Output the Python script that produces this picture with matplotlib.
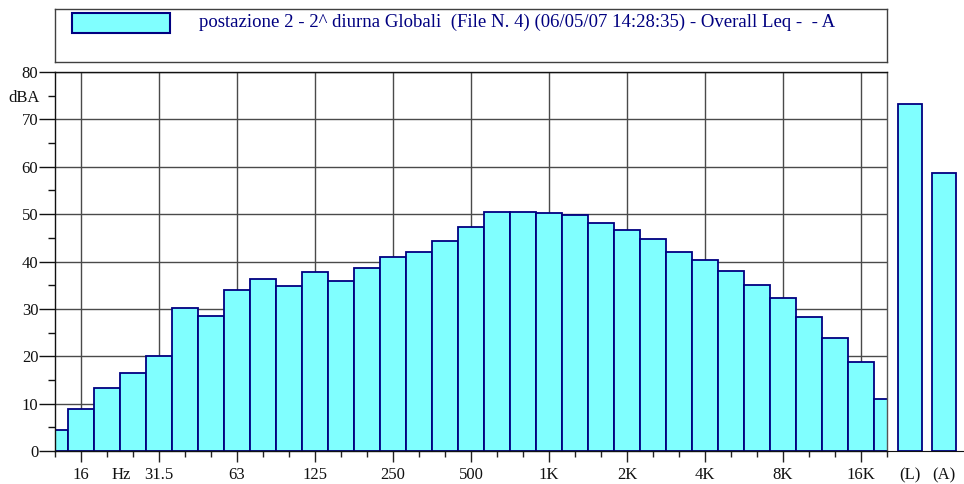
import matplotlib
matplotlib.use('Agg')
import matplotlib.pyplot as plt
from matplotlib.patches import Rectangle
from matplotlib.ticker import FixedLocator, FixedFormatter, NullFormatter

# ---------------- data ----------------
bands = ['12.5', '16', '20', '25', '31.5', '40', '50', '63', '80', '100',
         '125', '160', '200', '250', '315', '400', '500', '630', '800', '1K',
         '1.25K', '1.6K', '2K', '2.5K', '3.15K', '4K', '5K', '6.3K', '8K', '10K',
         '12.5K', '16K', '20K']
levels = [4.4, 8.9, 13.2, 16.5, 20.0, 30.2, 28.4, 34.0, 36.3, 34.9,
          37.8, 35.9, 38.6, 40.9, 42.1, 44.3, 47.3, 50.5, 50.5, 50.2,
          49.8, 48.2, 46.7, 44.7, 42.1, 40.3, 38.0, 35.1, 32.4, 28.3,
          23.9, 18.7, 11.0]
labelled_bands = ['16', '31.5', '63', '125', '250', '500', '1K', '2K', '4K', '8K', '16K']
overall_names = ['(L)', '(A)']
overall_levels = [73.2, 58.6]
y_major = [0, 10, 20, 30, 40, 50, 60, 70, 80]
y_minor = [5, 15, 25, 35, 45, 55, 65, 75]
y_minor_labels = ['', '', '', '', '', '', '', 'dBA']
unit_label = 'Hz'
legend_label = "postazione 2 - 2^ diurna Globali  (File N. 4) (06/05/07 14:28:35) - Overall Leq -  - A"

# ---------------- style ----------------
FILL = '#80FFFF'
EDGE = '#000080'
GRID = '#4a4a4a'
W, H = 964, 484
plt.rcParams['font.family'] = ['Liberation Serif', 'DejaVu Serif']
plt.rcParams['font.size'] = 12

fig = plt.figure(figsize=(W / 100, H / 100), dpi=100)

# ---------------- main spectrum ----------------
ax = fig.add_axes([55 / W, 33 / H, 832 / W, 379 / H])
x = list(range(len(bands)))
ax.bar(x, levels, width=1.0, color=FILL, edgecolor=EDGE, linewidth=1.3, zorder=2)
ax.set_xlim(0, len(bands) - 1)
ax.set_ylim(0, 80)

major_idx = [bands.index(b) for b in labelled_bands]
minor_idx = [i for i in x if i not in major_idx]
ax.xaxis.set_major_locator(FixedLocator(major_idx))
ax.xaxis.set_major_formatter(FixedFormatter(labelled_bands))
ax.xaxis.set_minor_locator(FixedLocator(minor_idx))
ax.xaxis.set_minor_formatter(NullFormatter())
ax.yaxis.set_major_locator(FixedLocator(y_major))
ax.yaxis.set_major_formatter(FixedFormatter([str(v) for v in y_major]))
ax.yaxis.set_minor_locator(FixedLocator(y_minor))
ax.yaxis.set_minor_formatter(FixedFormatter(y_minor_labels))

ax.tick_params(axis='x', which='major', length=8, width=1, pad=3.5, color='#222222', labelcolor='#111111')
ax.tick_params(axis='x', which='minor', length=4.5, width=1, color='#222222')
ax.tick_params(axis='y', which='major', length=11.5, width=1, pad=0.5, color='#111111', labelcolor='#111111')
ax.tick_params(axis='y', which='minor', length=4.8, width=1, pad=6.5, color='#111111', labelcolor='#111111')

ax.grid(which='major', color=GRID, linewidth=1.0, zorder=0)
ax.set_axisbelow(True)
for side in ['left', 'bottom', 'top']:
    ax.spines[side].set_color('#111111')
    ax.spines[side].set_linewidth(1.0)
ax.spines['right'].set_color('#555555')
ax.spines['right'].set_linewidth(1.0)

# "Hz" unit label between 20 and 25 Hz
ax.annotate(unit_label, xy=((bands.index('20') + bands.index('25')) / 2 + 0.05, 0),
            xycoords=('data', 'axes fraction'), xytext=(0, -11.5), textcoords='offset points',
            ha='center', va='top', color='#111111', fontsize=12)

# ---------------- overall levels ----------------
ax2 = fig.add_axes([887 / W, 33 / H, 77 / W, 379 / H])
xo = list(range(len(overall_names)))
ax2.bar(xo, overall_levels, width=0.71, color=FILL, edgecolor=EDGE, linewidth=1.3, zorder=2)
ax2.set_xlim(-0.684, 1.607)
ax2.set_ylim(0, 80)
ax2.set_xticks(xo)
ax2.set_xticklabels(overall_names)
ax2.set_yticks([])
ax2.tick_params(axis='x', length=0, pad=11.5, labelcolor='#111111')
for side in ['left', 'right', 'top']:
    ax2.spines[side].set_visible(False)
ax2.spines['bottom'].set_color('#111111')
ax2.patch.set_alpha(0)

# ---------------- legend box ----------------
lax = fig.add_axes([55 / W, (H - 62) / H, 832 / W, 53 / H])
lax.set_xticks([])
lax.set_yticks([])
for s in lax.spines.values():
    s.set_color('#404040')
    s.set_linewidth(1.0)
lax.add_patch(Rectangle((0.0204, 0.547), 0.1178, 0.378, transform=lax.transAxes,
                        facecolor=FILL, edgecolor=EDGE, linewidth=1.5))
lax.text(0.173, 0.66, legend_label, transform=lax.transAxes, ha='left', va='baseline',
         color=EDGE, fontsize=13.5)

fig.savefig('out.png', dpi=100)
